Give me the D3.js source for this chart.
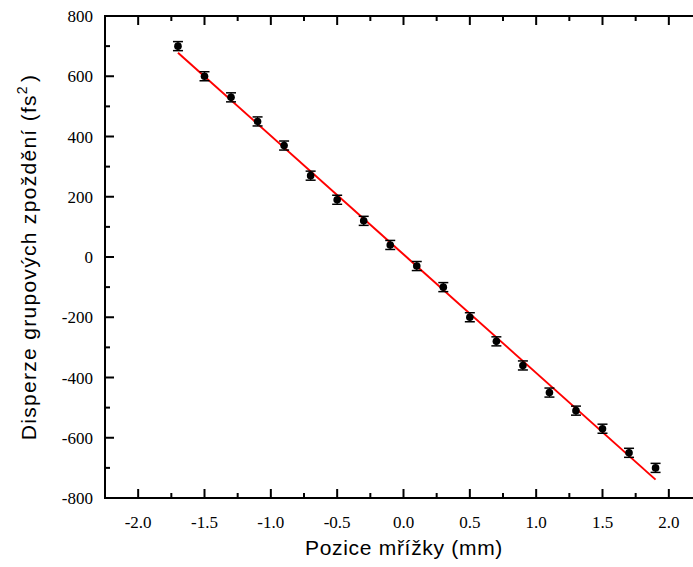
<!DOCTYPE html>
<html>
<head>
<meta charset="utf-8">
<script src="https://cdn.jsdelivr.net/npm/d3@7"></script>
<style>
  body { margin: 0; background: #fff; }
</style>
</head>
<body>
<div id="chart"></div>
<script>
// measured data
const positions = [-1.7, -1.5, -1.3, -1.1, -0.9, -0.7, -0.5, -0.3, -0.1, 0.1, 0.3, 0.5, 0.7, 0.9, 1.1, 1.3, 1.5, 1.7, 1.9];
const dispersion = [700, 600, 530, 450, 370, 270, 190, 120, 40, -30, -100, -200, -280, -360, -450, -510, -570, -650, -700];
const errors = [15, 15, 15, 15, 15, 15, 15, 15, 15, 15, 15, 15, 15, 15, 15, 15, 15, 15, 15];

const xTicks = [-2.0, -1.5, -1.0, -0.5, 0.0, 0.5, 1.0, 1.5, 2.0];
const yTicks = [-800, -600, -400, -200, 0, 200, 400, 600, 800];

const width = 693, height = 567;
const margin = {top: 16, left: 105, right: -9, bottom: 69};
const serif = '"Liberation Serif", "Times New Roman", serif';
const sans = '"Liberation Sans", Arial, sans-serif';

const svg = d3.select('#chart').append('svg')
    .attr('width', width)
    .attr('height', height);

const x = d3.scaleLinear().domain([-2.25, 2.25]).range([margin.left, width - margin.right]);
const y = d3.scaleLinear().domain([-800, 800]).range([height - margin.bottom, margin.top]);

// linear fit
const mx = d3.mean(positions), my = d3.mean(dispersion);
const slope = d3.sum(positions, (p, i) => (p - mx) * (dispersion[i] - my)) / d3.sum(positions, p => (p - mx) ** 2);
const intercept = my - slope * mx;

// axes, ticks inward
const xMinor = d3.range(-2.25, 2.26, 0.25).filter(v => Math.abs(v * 2 - Math.round(v * 2)) > 1e-6);
const yMinor = d3.range(-700, 800, 200);

const frame = svg.append('g');

function ticksX(yPos, dir) {
    frame.selectAll(null).data(xTicks).join('line')
        .attr('x1', d => x(d)).attr('x2', d => x(d))
        .attr('y1', yPos).attr('y2', yPos + dir * 9)
        .attr('stroke', '#000').attr('stroke-width', 2);
    frame.selectAll(null).data(xMinor).join('line')
        .attr('x1', d => x(d)).attr('x2', d => x(d))
        .attr('y1', yPos).attr('y2', yPos + dir * 5)
        .attr('stroke', '#000').attr('stroke-width', 2);
}
function ticksY(xPos, dir) {
    frame.selectAll(null).data(yTicks).join('line')
        .attr('y1', d => y(d)).attr('y2', d => y(d))
        .attr('x1', xPos).attr('x2', xPos + dir * 9)
        .attr('stroke', '#000').attr('stroke-width', 2);
    frame.selectAll(null).data(yMinor).join('line')
        .attr('y1', d => y(d)).attr('y2', d => y(d))
        .attr('x1', xPos).attr('x2', xPos + dir * 5)
        .attr('stroke', '#000').attr('stroke-width', 2);
}

ticksX(y(-800), -1);
ticksX(y(800), 1);
ticksY(x(-2.25), 1);
ticksY(x(2.25), -1);

frame.append('rect')
    .attr('x', x(-2.25)).attr('y', y(800))
    .attr('width', x(2.25) - x(-2.25)).attr('height', y(-800) - y(800))
    .attr('fill', 'none').attr('stroke', '#000').attr('stroke-width', 2);

// tick labels
svg.selectAll('.xl').data(xTicks).join('text')
    .attr('class', 'xl')
    .attr('x', d => x(d)).attr('y', y(-800) + 30)
    .attr('text-anchor', 'middle')
    .style('font-family', serif).style('font-size', '17px')
    .text(d => d.toFixed(1));

svg.selectAll('.yl').data(yTicks).join('text')
    .attr('class', 'yl')
    .attr('x', x(-2.25) - 12).attr('y', d => y(d) + 6)
    .attr('text-anchor', 'end')
    .style('font-family', serif).style('font-size', '17px')
    .text(d => d);

// axis titles
svg.append('text')
    .attr('x', 404).attr('y', 555)
    .attr('text-anchor', 'middle')
    .style('font-family', sans).style('font-size', '21px').style('letter-spacing', '0.7px')
    .text('Pozice mřížky (mm)');

const yt = svg.append('text')
    .attr('transform', `translate(36, ${y(0)}) rotate(-90)`)
    .attr('text-anchor', 'middle')
    .style('font-family', sans).style('font-size', '21px').style('letter-spacing', '1.3px');
yt.append('tspan').text('Disperze grupových zpoždění (fs');
yt.append('tspan').attr('dy', -9).style('font-size', '14px').text('2');
yt.append('tspan').attr('dy', 9).attr('dx', 3).text(')');

// fit line
const line = d3.line().x(d => x(d)).y(d => y(slope * d + intercept));
svg.append('path')
    .datum([d3.min(positions), d3.max(positions)])
    .attr('d', line)
    .attr('fill', 'none')
    .attr('stroke', '#ff0000')
    .attr('stroke-width', 2);

// error bars
const pts = positions.map((p, i) => ({x: p, y: dispersion[i], e: errors[i]}));
const eb = svg.append('g');
eb.selectAll('.ev').data(pts).join('line')
    .attr('x1', d => x(d.x)).attr('x2', d => x(d.x))
    .attr('y1', d => y(d.y + d.e)).attr('y2', d => y(d.y - d.e))
    .attr('stroke', '#000').attr('stroke-width', 1.2);
[1, -1].forEach(s => {
    eb.selectAll(null).data(pts).join('line')
        .attr('x1', d => x(d.x) - 5).attr('x2', d => x(d.x) + 5)
        .attr('y1', d => y(d.y + s * d.e)).attr('y2', d => y(d.y + s * d.e))
        .attr('stroke', '#000').attr('stroke-width', 1.5);
});

svg.selectAll('.pt').data(pts).join('circle')
    .attr('class', 'pt')
    .attr('cx', d => x(d.x)).attr('cy', d => y(d.y))
    .attr('r', 3.8)
    .attr('fill', '#000');
</script>
</body>
</html>
